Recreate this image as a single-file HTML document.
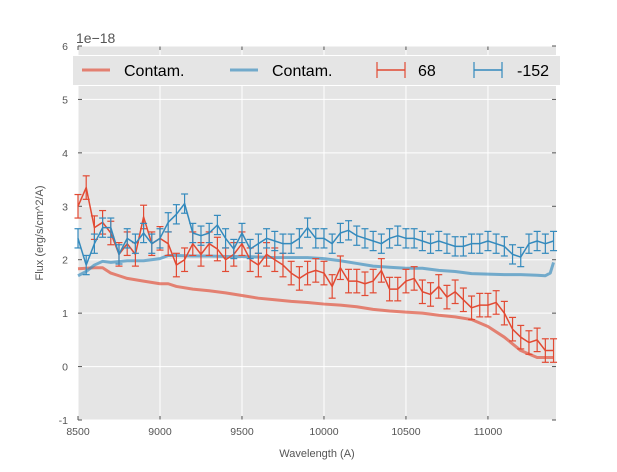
<!DOCTYPE html>
<html><head><meta charset="utf-8"><style>
body{margin:0;background:#fff;}
svg{font-family:"Liberation Sans",sans-serif;}
</style></head><body>
<svg id="chart" width="617" height="467"></svg>
<script>
const waves=[8500,8550,8600,8650,8700,8750,8800,8850,8900,8950,9000,9050,9100,9150,9200,9250,9300,9350,9400,9450,9500,9550,9600,9650,9700,9750,9800,9850,9900,9950,10000,10050,10100,10150,10200,10250,10300,10350,10400,10450,10500,10550,10600,10650,10700,10750,10800,10850,10900,10950,11000,11050,11100,11150,11200,11250,11300,11350,11400];
const flux68=[3.0,3.35,2.6,2.7,2.5,2.1,2.3,2.1,2.8,2.3,2.4,2.3,1.9,2.0,2.3,2.1,2.3,2.2,2.0,2.1,2.3,2.0,1.9,2.1,2.0,1.9,1.75,1.65,1.75,1.8,1.75,1.5,1.85,1.6,1.6,1.55,1.6,1.8,1.45,1.45,1.6,1.65,1.4,1.35,1.5,1.3,1.4,1.25,1.1,1.15,1.15,1.2,1.0,0.7,0.55,0.45,0.5,0.3,0.3];
const flux152=[2.4,1.9,2.3,2.6,2.6,2.1,2.4,2.3,2.5,2.3,2.4,2.7,2.85,3.05,2.5,2.45,2.5,2.65,2.4,2.2,2.5,2.2,2.3,2.4,2.35,2.3,2.3,2.4,2.6,2.4,2.4,2.3,2.5,2.55,2.45,2.4,2.35,2.3,2.4,2.45,2.4,2.4,2.35,2.3,2.35,2.3,2.25,2.25,2.3,2.3,2.35,2.3,2.25,2.1,2.05,2.3,2.35,2.3,2.35];
const err68=0.22, err152=0.18;
const contRedX=[8500,8600,8650,8700,8750,8800,8900,9000,9050,9100,9200,9300,9400,9500,9600,9700,9800,9900,10000,10100,10200,10300,10400,10500,10600,10700,10800,10900,11000,11100,11200,11300,11400];
const contRedY=[1.83,1.85,1.85,1.75,1.7,1.65,1.6,1.55,1.55,1.5,1.45,1.42,1.38,1.33,1.28,1.25,1.22,1.2,1.17,1.15,1.12,1.07,1.04,1.02,1.0,0.96,0.93,0.88,0.75,0.55,0.3,0.17,0.17];
const contBlueX=[8500,8550,8600,8650,8700,8800,8900,9000,9050,9100,9200,9300,9400,9500,9600,9700,9800,9900,10000,10100,10200,10300,10400,10500,10600,10700,10800,10900,11000,11100,11200,11300,11350,11380,11400];
const contBlueY=[1.7,1.78,1.9,1.97,1.95,1.98,1.98,2.02,2.08,2.08,2.07,2.07,2.06,2.06,2.05,2.04,2.04,2.04,2.02,1.98,1.93,1.88,1.86,1.84,1.84,1.8,1.78,1.74,1.73,1.72,1.72,1.71,1.7,1.75,1.95];
const xTicks=[8500,9000,9500,10000,10500,11000];
const yTicks=[-1,0,1,2,3,4,5,6];

const L=78,R=556,T=46,B=420,xmin=8500,xmax=11415,ymin=-1,ymax=6;
const X=v=>L+(v-xmin)/(xmax-xmin)*(R-L);
const Y=v=>B-(v-ymin)/(ymax-ymin)*(B-T);
const svg=document.getElementById('chart');
const NS='http://www.w3.org/2000/svg';
function mk(tag,attrs,parent){const e=document.createElementNS(NS,tag);for(const k in attrs)e.setAttribute(k,attrs[k]);(parent||svg).appendChild(e);return e;}

const bg=mk('rect',{x:L,y:T,width:R-L,height:B-T,fill:'#e5e5e5'});


for(const t of xTicks){
  const g=mk('line',{x1:X(t),x2:X(t),y1:T,y2:B,stroke:'#fff','stroke-width':1});
  
  
  mk('line',{x1:X(t),x2:X(t),y1:B,y2:B-4,stroke:'#555'});
  mk('line',{x1:X(t),x2:X(t),y1:T,y2:T+4,stroke:'#555'});
  const tx=mk('text',{x:X(t),y:B+15,'font-size':10.5,fill:'#555','text-anchor':'middle'});
  tx.textContent=t;
  
  
}
for(const t of yTicks){
  const g=mk('line',{x1:L,x2:R,y1:Y(t),y2:Y(t),stroke:'#fff','stroke-width':1});
  
  
  mk('line',{x1:L,x2:L+4,y1:Y(t),y2:Y(t),stroke:'#555'});
  mk('line',{x1:R,x2:R-4,y1:Y(t),y2:Y(t),stroke:'#555'});
  const tx=mk('text',{x:L-10,y:Y(t)+4,'font-size':10.5,fill:'#555','text-anchor':'end'});
  tx.textContent=t;
  
  
}
function line(xs,ys,color,w,op,name){
  const p=mk('polyline',{points:xs.map((x,i)=>X(x)+','+Y(ys[i])).join(' '),fill:'none',stroke:color,'stroke-width':w,'stroke-opacity':op,'stroke-linejoin':'round'});
  
  
}
line(contRedX,contRedY,'#E24A33',3,0.65,'contam-line-68');
line(contBlueX,contBlueY,'#348ABD',3,0.65,'contam-line-152');
function errs(ys,err,color,name){
  const g=mk('g',{stroke:color,'stroke-width':1.2,fill:'none'});
  
  
  waves.forEach((w,i)=>{
    const x=X(w),y1=Y(ys[i]-err),y2=Y(ys[i]+err);
    mk('line',{x1:x,x2:x,y1:y1,y2:y2},g);
    mk('line',{x1:x-3.5,x2:x+3.5,y1:y1,y2:y1},g);
    mk('line',{x1:x-3.5,x2:x+3.5,y1:y2,y2:y2},g);
  });
  line(waves,ys,color,1.5,1,name+'-line');
}
errs(flux68,err68,'#E24A33','series-68');
errs(flux152,err152,'#348ABD','series-152');

const ot=mk('text',{x:76,y:43,'font-size':14,fill:'#555'});ot.textContent='1e\u221218';


const xl=mk('text',{x:(L+R)/2,y:457,'font-size':11,fill:'#555','text-anchor':'middle'});xl.textContent='Wavelength (A)';


const yl=mk('text',{x:0,y:0,'font-size':11,fill:'#555','text-anchor':'middle',transform:'translate(43,233) rotate(-90)'});yl.textContent='Flux (erg/s/cm^2/A)';



const lg=mk('g',{});


mk('rect',{x:72.5,y:55.5,width:488,height:30,fill:'#e5e5e5',stroke:'#fff','stroke-width':1},lg);
const entries=[['Contam.','#E24A33','line',82,124],['Contam.','#348ABD','line',230,272],['68','#E24A33','err',377,418],['-152','#348ABD','err',474,517]];
for(const [lab,c,type,x0,tx] of entries){
  const eg=mk('g',{},lg);
  
  
  if(type==='line'){mk('line',{x1:x0,x2:x0+28,y1:70,y2:70,stroke:c,'stroke-width':3,'stroke-opacity':0.65},eg);}
  else{
    mk('line',{x1:x0,x2:x0+28,y1:70,y2:70,stroke:c,'stroke-width':1.5},eg);
    mk('line',{x1:x0,x2:x0,y1:62,y2:78,stroke:c,'stroke-width':1.2},eg);
    mk('line',{x1:x0+28,x2:x0+28,y1:62,y2:78,stroke:c,'stroke-width':1.2},eg);
  }
  const t=mk('text',{x:tx,y:76,'font-size':16,fill:'#000'},eg);t.textContent=lab;
}
</script>
</body></html>
